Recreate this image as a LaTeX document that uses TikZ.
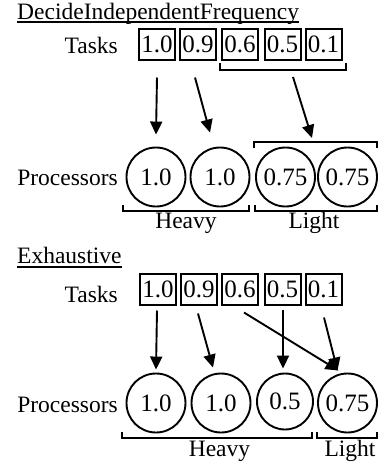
\documentclass[tikz,border=0pt]{standalone}
\usepackage{fontspec}
\setmainfont{Liberation Serif}
\usetikzlibrary{arrows.meta,calc}
\begin{document}
\begin{tikzpicture}[x=1pt,y=-1pt,
  txt/.style={inner sep=0pt, font=\fontsize{23.5}{28}\selectfont},
  ttl/.style={inner sep=0pt, font=\fontsize{23.5}{28}\selectfont},
  task/.style={draw, line width=2pt, minimum width=36pt, minimum height=31pt,
    inner sep=0pt, font=\fontsize{25}{28}\selectfont},
  proc/.style={draw, circle, line width=1.9pt, minimum size=59pt, inner sep=0pt,
    font=\fontsize{25}{28}\selectfont},
  arr/.style={line width=1.9pt, -{Triangle[length=13pt,width=12pt]}},
  brk/.style={line width=2pt},
  uline/.style={line width=1.1pt}]
\useasboundingbox (0,0) rectangle (378,467);

% ---------- DecideIndependentFrequency ----------
\node[ttl, anchor=base west] (title1) at (17,19) {DecideIndependentFrequency};
\draw[uline] ([yshift=-3pt]title1.base west) -- ([yshift=-3pt]title1.base east);

\node[txt, anchor=base east] (tasks1) at (118,53) {Tasks};
\node[task] (a1) at (157,44) {1.0};
\node[task] (a2) at (198,44) {0.9};
\node[task] (a3) at (240,44) {0.6};
\node[task] (a4) at (282.5,44) {0.5};
\node[task] (a5) at (323.5,44) {0.1};

% bracket grouping the light tasks
\draw[brk] (220,63) -- (220,70) -- (346,70) -- (346,63);
\coordinate (ga) at (283,70);

\node[txt, anchor=base east] (procs1) at (118,185) {Processors};
\node[proc] (p1) at (156,177) {1.0};
\node[proc] (p2) at (220,177) {1.0};
\node[proc] (p3) at (285.5,177) {0.75};
\node[proc] (p4) at (347.5,177) {0.75};

% bracket over the light processors
\draw[brk] (254,148) -- (254,142) -- (376.5,142) -- (376.5,148);
\coordinate (gp) at (316,142);

% group brackets below
\draw[brk] (123,205) -- (123,210.5) -- (249,210.5) -- (249,205);
\draw[brk] (255,205) -- (255,210.5) -- (376.5,210.5) -- (376.5,205);
\node[txt, anchor=base] (heavy1) at (186,228) {Heavy};
\node[txt, anchor=base] (light1) at (314,228) {Light};

\draw[arr] ($(a1.south)+(0,17)$) -- ($(p1.north)+(0,-12)$);
\draw[arr] ($(a2.south)+(-3,17)$) -- ($(p2.north)+(-10,-14)$);
\draw[arr] ($(ga)+(10,7)$) -- ($(gp)+(-4,-4)$);

% ---------- Exhaustive ----------
\node[ttl, anchor=base west] (title2) at (17,263) {Exhaustive};
\draw[uline] ([yshift=-4pt]title2.base west) -- ([yshift=-4pt]title2.base east);

\node[txt, anchor=base east] (tasks2) at (118,302) {Tasks};
\node[task] (b1) at (158,289) {1.0};
\node[task] (b2) at (199,289) {0.9};
\node[task] (b3) at (240,289) {0.6};
\node[task] (b4) at (282.5,289) {0.5};
\node[task] (b5) at (323.5,289) {0.1};

\node[txt, anchor=base east] (procs2) at (118,412) {Processors};
\node[proc] (q1) at (156,403) {1.0};
\node[proc] (q2) at (221,403) {1.0};
\node[proc, minimum size=56pt] (q3) at (285,401.5) {0.5};
\node[proc] (q4) at (347.5,403) {0.75};

\draw[brk] (122,432) -- (122,438) -- (312,438) -- (312,432);
\draw[brk] (317,432) -- (317,438) -- (376.5,438) -- (376.5,432);
\node[txt, anchor=base] (heavy2) at (219.5,456) {Heavy};
\node[txt, anchor=base] (light2) at (350,456) {Light};

\draw[arr] ($(b1.south)+(-1,5)$) -- ($(q1.north)+(0,-3)$);
\draw[arr] ($(b2.south)+(-1,8)$) -- ($(q2.north)+(-8,-5)$);
\draw[arr] ($(b4.south)+(0.5,4)$) -- ($(b4.south |- q3.north)+(0.5,-4)$);
\draw[arr] ($(b3.south)+(4,7)$) -- ($(q4.north)+(-9,-2)$);
\draw[arr] ($(b5.south)+(0.5,12)$) -- ($(q4.north)+(-10,-2)$);
\end{tikzpicture}
\end{document}
